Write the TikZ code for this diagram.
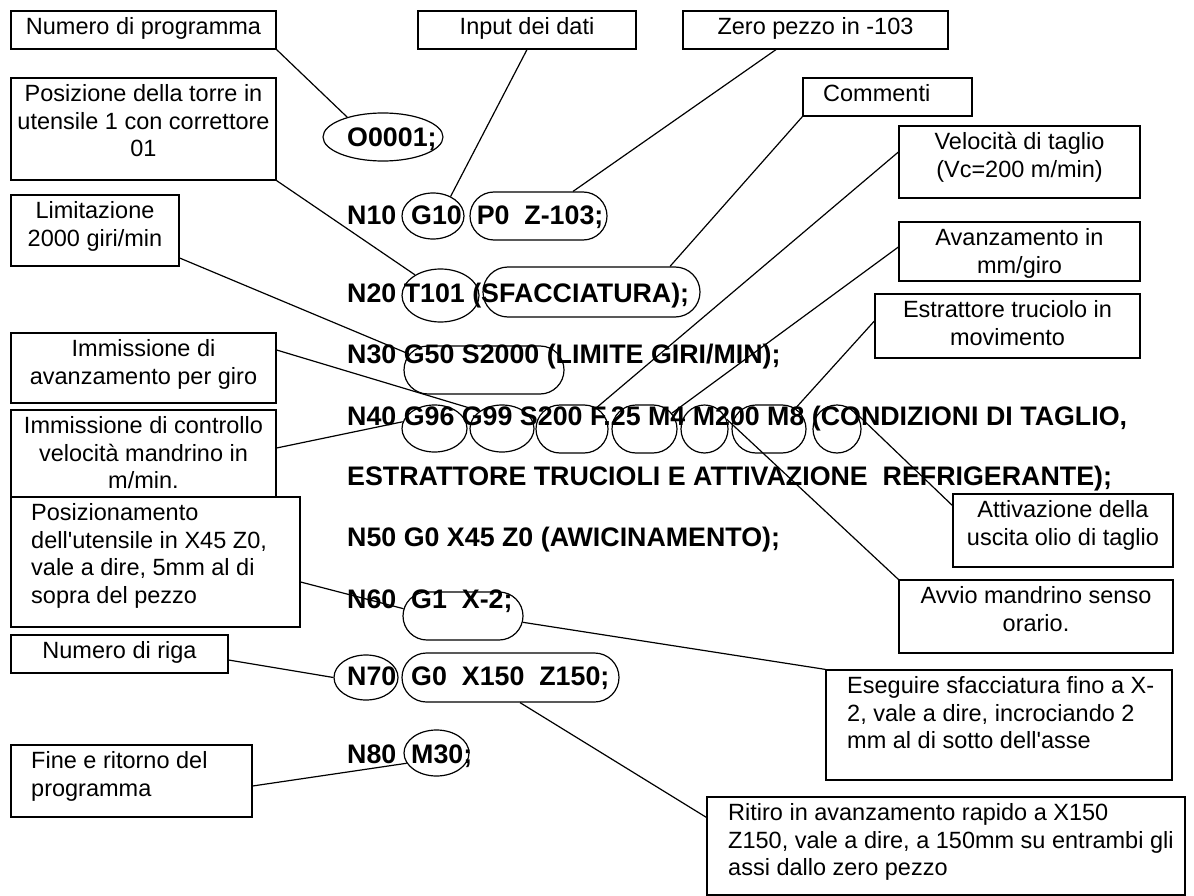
\documentclass[tikz,border=0pt]{standalone}
\usepackage{fontspec}
\usetikzlibrary{shapes.geometric,shapes.misc}
\newfontfamily\labfont{Liberation Sans}
\newcommand\fl{\rule{0pt}{19.5pt}}
\begin{document}
\begin{tikzpicture}[x=1pt,y=-1pt,
  lbox/.style={draw, line width=1.2pt, rectangle, inner sep=0pt},
  ltext/.style={inner sep=0pt, text width=#1, font=\labfont\fontsize{23.5}{27.5}\selectfont},
  ctext/.style={inner sep=0pt, anchor=base west, font=\labfont\bfseries\fontsize{26.8}{30}\selectfont},
  ell/.style={draw, ellipse, line width=1.2pt, inner sep=0pt},
  rrect/.style={draw, rounded rectangle, line width=1.2pt, inner sep=0pt},
  conn/.style={line width=1.2pt}]
\path[use as bounding box, fill=white] (0,0) rectangle (1194,896);

% ---------- label boxes ----------
\node[lbox, minimum width=265pt, minimum height=38pt] (nprog) at (143.5,30) {};
\node[lbox, minimum width=218pt, minimum height=38pt] (input) at (527,30) {};
\node[lbox, minimum width=265pt, minimum height=38pt] (zero) at (815.5,30) {};
\node[lbox, minimum width=265pt, minimum height=102pt] (torre) at (143.5,129) {};
\node[lbox, minimum width=169pt, minimum height=38pt] (commenti) at (887.5,97) {};
\node[lbox, minimum width=168pt, minimum height=71pt] (limit) at (95,230.5) {};
\node[lbox, minimum width=241pt, minimum height=72pt] (vel) at (1019.5,162) {};
\node[lbox, minimum width=241pt, minimum height=59pt] (avmm) at (1019.5,251.5) {};
\node[lbox, minimum width=265pt, minimum height=64pt] (estr) at (1007.5,326) {};
\node[lbox, minimum width=265pt, minimum height=70pt] (avgiro) at (143.5,368) {};
\node[lbox, minimum width=265pt, minimum height=87pt] (ctrl) at (143.5,453.5) {};
\node[lbox, minimum width=289pt, minimum height=130pt] (posiz) at (155.5,562) {};
\node[lbox, minimum width=220pt, minimum height=73pt] (attiv) at (1063,530.5) {};
\node[lbox, minimum width=274pt, minimum height=73pt] (avvio) at (1036,616.5) {};
\node[lbox, minimum width=346pt, minimum height=110pt] (eseg) at (999,725) {};
\node[lbox, minimum width=217pt, minimum height=38pt] (riga) at (119.5,654) {};
\node[lbox, minimum width=241pt, minimum height=72pt] (fine) at (131.5,781) {};
\node[lbox, minimum width=478pt, minimum height=98pt] (ritiro) at (946,846) {};

% ---------- label texts ----------
\node[ltext=261pt, anchor=north, align=flush center] (tnprog) at (143.5,15) {\fl Numero di programma};
\node[ltext=214pt, anchor=north, align=flush center] (tinput) at (527,15) {\fl Input dei dati};
\node[ltext=261pt, anchor=north, align=flush center] (tzero) at (815.5,15) {\fl Zero pezzo in -103};
\node[ltext=263pt, anchor=north, align=flush center] (ttorre) at (143.5,82) {\fl Posizione della torre in\\utensile 1 con correttore\\01};
\node[ltext=145pt, anchor=north west, align=flush left] (tcomm) at (823,82) {\fl Commenti};
\node[ltext=164pt, anchor=north, align=flush center] (tlimit) at (95,199) {\fl Limitazione\\2000 giri/min};
\node[ltext=237pt, anchor=north, align=flush center] (tvel) at (1019.5,130) {\fl Velocità di taglio\\(Vc=200 m/min)};
\node[ltext=237pt, anchor=north, align=flush center] (tavmm) at (1019.5,226) {\fl Avanzamento in\\mm/giro};
\node[ltext=261pt, anchor=north, align=flush center] (testr) at (1007.5,298) {\fl Estrattore truciolo in\\movimento};
\node[ltext=261pt, anchor=north, align=flush center] (tavgiro) at (143.5,337) {\fl Immissione di\\avanzamento per giro};
\node[ltext=263pt, anchor=north, align=flush center] (tctrl) at (143.5,414) {\fl Immissione di controllo\\velocità mandrino in\\m/min.};
\node[ltext=266pt, anchor=north west, align=flush left] (tposiz) at (31,501) {\fl Posizionamento\\dell'utensile in X45 Z0,\\vale a dire, 5mm al di\\sopra del pezzo};
\node[ltext=216pt, anchor=north, align=flush center] (tattiv) at (1063,498) {\fl Attivazione della\\uscita olio di taglio};
\node[ltext=270pt, anchor=north, align=flush center] (tavvio) at (1036,584) {\fl Avvio mandrino senso\\orario.};
\node[ltext=323pt, anchor=north west, align=flush left] (teseg) at (847,674) {\fl Eseguire sfacciatura fino a X-\\2, vale a dire, incrociando 2\\mm al di sotto dell'asse};
\node[ltext=213pt, anchor=north, align=flush center] (triga) at (119.5,639) {\fl Numero di riga};
\node[ltext=219pt, anchor=north west, align=flush left] (tfine) at (31,749) {\fl Fine e ritorno del\\programma};
\node[ltext=456pt, anchor=north west, align=flush left] (tritiro) at (728,801) {\fl Ritiro in avanzamento rapido a X150\\Z150, vale a dire, a 150mm su entrambi gli\\assi dallo zero pezzo};

% ---------- program lines ----------
\node[ctext] (c0) at (347,147) {O0001;};
\node[ctext] (c10) at (347,225) {N10~~G10~~P0~~Z-103;};
\node[ctext] (c20) at (347,302) {N20 T101 (SFACCIATURA);};
\node[ctext] (c30) at (347,363) {N30 G50 S2000 (LIMITE GIRI/MIN);};
\node[ctext] (c40) at (347,425) {N40 G96 G99 S200 F.25 M4 M200 M8 (CONDIZIONI DI TAGLIO,};
\node[ctext] (c40b) at (347,485) {ESTRATTORE TRUCIOLI E ATTIVAZIONE~~REFRIGERANTE);};
\node[ctext] (c50) at (347,546) {N50 G0 X45 Z0 (AWICINAMENTO);};
\node[ctext] (c60) at (347,608) {N60~~G1~~X-2;};
\node[ctext] (c70) at (347,685) {N70~~G0~~X150~~Z150;};
\node[ctext] (c80) at (347,763) {N80~~M30;};

% ---------- outlines around code words ----------
\node[ell, minimum width=120pt, minimum height=48pt] (o0001) at (383,137) {};
\node[ell, minimum width=62pt, minimum height=46pt] (g10) at (433,216) {};
\node[rrect, minimum width=137pt, minimum height=48pt] (p0) at (538.5,216) {};
\node[ell, minimum width=77pt, minimum height=53pt] (t101) at (440.5,295.5) {};
\node[rrect, minimum width=217pt, minimum height=50pt] (sfacc) at (591.5,292) {};
\node[rrect, minimum width=160pt, minimum height=48pt] (g50) at (484,370) {};
\node[ell, minimum width=65pt, minimum height=47pt] (g96) at (434.5,428.5) {};
\node[ell, minimum width=64pt, minimum height=47pt] (g99) at (502,428.5) {};
\node[rrect, minimum width=72pt, minimum height=48pt] (s200) at (572,429) {};
\node[rrect, minimum width=65pt, minimum height=48pt] (f25) at (644.5,429) {};
\node[ell, minimum width=47pt, minimum height=48pt] (m4) at (704.5,429) {};
\node[rrect, minimum width=74pt, minimum height=48pt] (m200) at (769,429) {};
\node[ell, minimum width=48pt, minimum height=48pt] (m8) at (837,429) {};
\node[rrect, minimum width=120pt, minimum height=48pt] (g1) at (463,616) {};
\node[ell, minimum width=64pt, minimum height=45pt] (n70) at (366,677.5) {};
\node[rrect, minimum width=217pt, minimum height=49pt] (g0) at (510.5,677.5) {};
\node[ell, minimum width=65pt, minimum height=46pt] (m30) at (436.5,753) {};

% ---------- connectors ----------
\draw[conn] (nprog.south east) -- (o0001.151);
\draw[conn] (input.south) -- (g10.48);
\draw[conn] ([xshift=-39.5pt]zero.south) -- ([xshift=34.5pt]p0.north);
\draw[conn] (torre.south east) -- (t101.141);
\draw[conn] (commenti.south west) -- ([xshift=78.5pt]sfacc.north);
\draw[conn] ([yshift=-27.5pt]limit.east) -- (g50.168);
\draw[conn] ([yshift=18pt]avgiro.east) -- (g99.142);
\draw[conn] ([yshift=5.5pt]ctrl.east) -- (g96.168);
\draw[conn] ([yshift=10pt]vel.west) -- (s200.41);
\draw[conn] ([yshift=4.5pt]avmm.west) -- (f25.30);
\draw[conn] ([yshift=5pt]estr.west) -- (m200.38);
\draw[conn] ([yshift=25pt]attiv.west) -- (m8.north east);
\draw[conn] (avvio.north west) -- (m4.24);
\draw[conn] ([yshift=-20pt]posiz.east) -- (g1.173);
\draw[conn] (g1.-6) -- (eseg.north west);
\draw[conn] ([yshift=-6pt]riga.east) -- (n70.west);
\draw[conn] ([xshift=9.5pt]g0.south) -- ([yshift=-21pt]ritiro.north west);
\draw[conn] ([yshift=-5pt]fine.east) -- (m30.199);
\end{tikzpicture}
\end{document}
